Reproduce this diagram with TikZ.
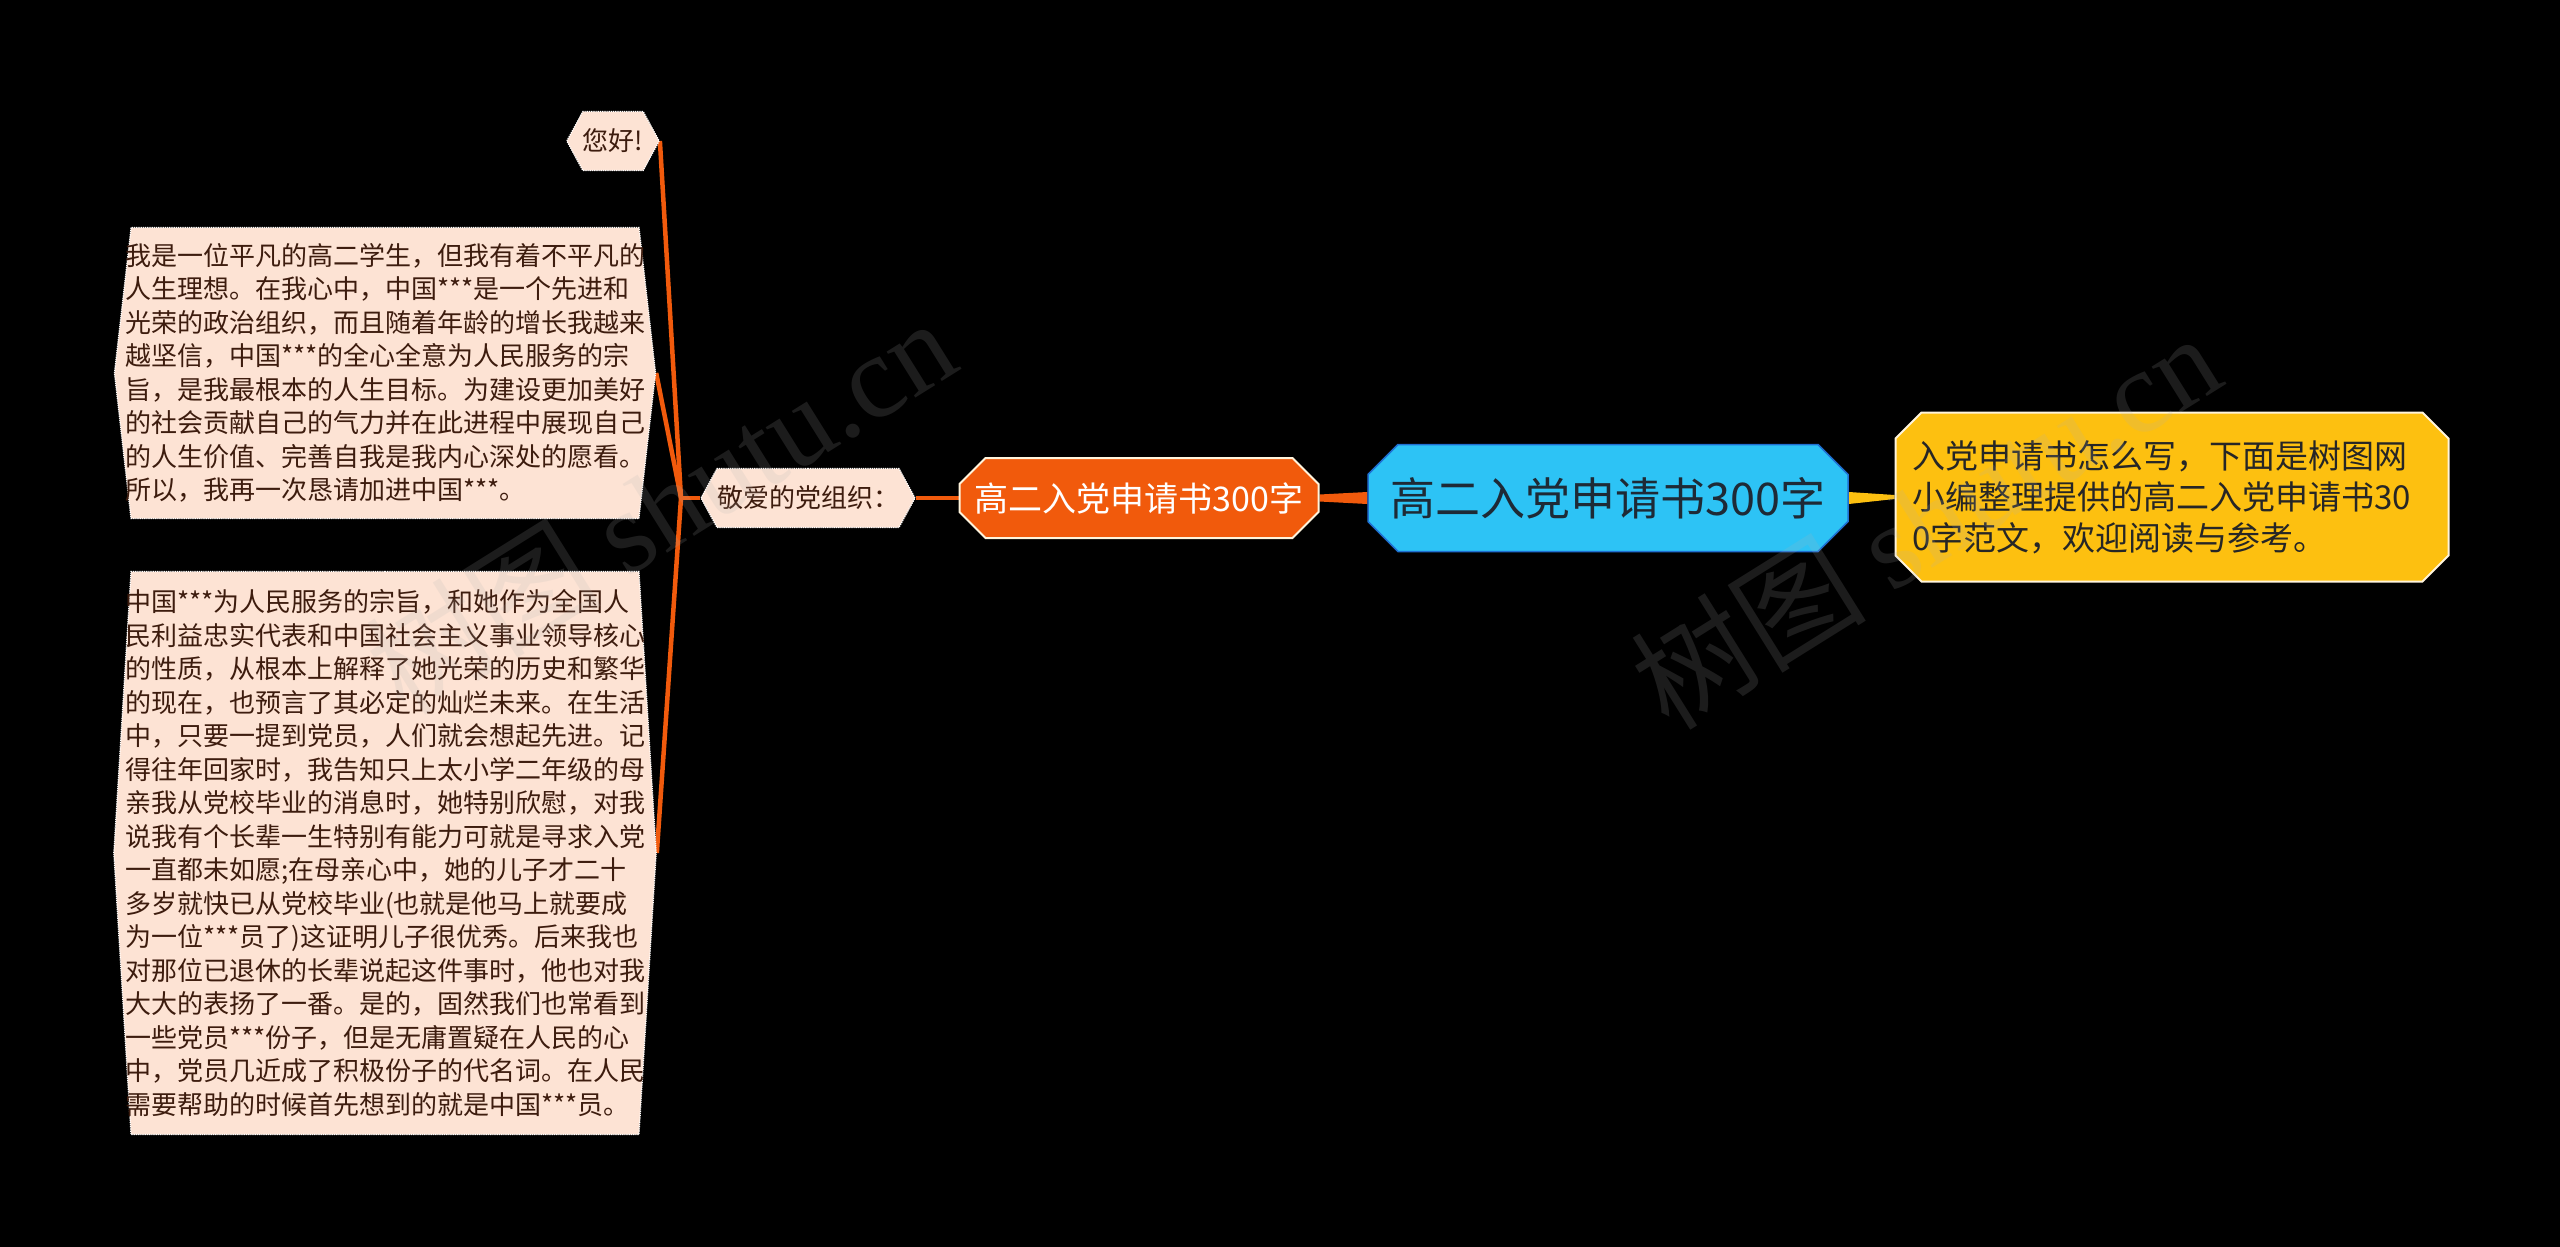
\documentclass[tikz,border=0pt]{standalone}
\usepackage{fontspec}
\setmainfont{Noto Sans CJK SC}
\newfontfamily\wmlatin{Liberation Serif}
\usetikzlibrary{shapes.symbols, shapes.misc, backgrounds}

\definecolor{mapOrange}{HTML}{F15A0C}
\definecolor{mapPeach}{HTML}{FDE3D4}
\definecolor{mapBrown}{HTML}{3D1C0E}
\definecolor{mapBlue}{HTML}{2DC3F5}
\definecolor{mapBlueEdge}{HTML}{1F6FD1}
\definecolor{mapYellow}{HTML}{FDC010}
\definecolor{mapCream}{HTML}{FFF4DC}
\definecolor{mapInk}{HTML}{1E2A36}

\tikzset{
  leaf/.style={signal, signal to=east and west, fill=mapPeach, draw=white,
    densely dotted, line width=1.2pt, text=mapBrown, inner sep=0pt, align=left,
    font=\fontsize{26}{33.5}\selectfont},
  octa/.style={chamfered rectangle, chamfered rectangle xsep=13pt,
    chamfered rectangle ysep=13pt, inner sep=0pt, line width=2pt},
  branch/.style={draw=mapOrange, line width=4.5pt},
  watermark/.style={text=gray!60, opacity=0.16, font=\fontsize{118}{118}\selectfont}
}

\begin{document}
\begin{tikzpicture}[x=1pt, y=-1pt]

% --- CANVAS ---
\useasboundingbox (0,0) rectangle (2560,1247);

% --- 1. ROOT AND RIGHT NOTE ---
\node[octa, chamfered rectangle xsep=15pt, chamfered rectangle ysep=15pt,
  fill=mapBlue, draw=mapBlueEdge, line width=1.5pt, text=mapInk,
  minimum width=480pt, minimum height=107pt,
  font=\fontsize{45}{45}\selectfont] (root) at (1608,498) {高二入党申请书300字};

\node[octa, fill=mapYellow, draw=mapCream, text=black!85, text width=520pt,
  align=left, minimum width=553pt, minimum height=169pt,
  font=\fontsize{33}{41}\selectfont] (note) at (2172,497)
  {入党申请书怎么写，下面是树图网\\小编整理提供的高二入党申请书30\\0字范文，欢迎阅读与参考。};

% --- 2. ORANGE SUBTOPIC ---
\node[octa, fill=mapOrange, draw=mapCream, text=white,
  minimum width=359pt, minimum height=80pt,
  font=\fontsize{34}{34}\selectfont] (sub) at (1139,498) {高二入党申请书300字};

\node[leaf, signal pointer angle=123, minimum width=173pt, minimum height=59pt]
  (greet) at (808,498) {敬爱的党组织：};

% --- 3. LEAVES ---
\node[leaf, signal pointer angle=123, minimum width=49pt, minimum height=59pt]
  (hello) at (613,141) {您好!};

\node[leaf, signal pointer angle=167, inner xsep=-6pt, minimum height=291pt]
  (para1) at (385,373) {我是一位平凡的高二学生，但我有着不平凡的\\
  人生理想。在我心中，中国***是一个先进和\\
  光荣的政治组织，而且随着年龄的增长我越来\\
  越坚信，中国***的全心全意为人民服务的宗\\
  旨，是我最根本的人生目标。为建设更加美好\\
  的社会贡献自己的气力并在此进程中展现自己\\
  的人生价值、完善自我是我内心深处的愿看。\\
  所以，我再一次恳请加进中国***。};

\node[leaf, signal pointer angle=173, inner xsep=-6pt, minimum height=563pt]
  (para2) at (385,853) {中国***为人民服务的宗旨，和她作为全国人\\
  民利益忠实代表和中国社会主义事业领导核心\\
  的性质，从根本上解释了她光荣的历史和繁华\\
  的现在，也预言了其必定的灿烂未来。在生活\\
  中，只要一提到党员，人们就会想起先进。记\\
  得往年回家时，我告知只上太小学二年级的母\\
  亲我从党校毕业的消息时，她特别欣慰，对我\\
  说我有个长辈一生特别有能力可就是寻求入党\\
  一直都未如愿;在母亲心中，她的儿子才二十\\
  多岁就快已从党校毕业(也就是他马上就要成\\
  为一位***员了)这证明儿子很优秀。后来我也\\
  对那位已退休的长辈说起这件事时，他也对我\\
  大大的表扬了一番。是的，固然我们也常看到\\
  一些党员***份子，但是无庸置疑在人民的心\\
  中，党员几近成了积极份子的代名词。在人民\\
  需要帮助的时候首先想到的就是中国***员。};

\coordinate (fork) at (681,498);

% --- 4. CONNECTORS (behind the nodes) ---
\begin{scope}[on background layer]
  \fill[black] (0,0) rectangle (2560,1247);
  % tapered links out of the root
  \fill[mapOrange] ([yshift=6pt]root.west) -- ([yshift=-6pt]root.west)
    -- ([yshift=-3.5pt]sub.east) -- ([yshift=3.5pt]sub.east) -- cycle;
  \fill[mapYellow] ([yshift=6pt]root.east) -- ([yshift=-6pt]root.east)
    -- ([yshift=-2pt]note.west) -- ([yshift=2pt]note.west) -- cycle;
  % plain links
  \draw[branch] (sub.west) -- (greet.east);
  \draw[branch] (greet.west) -- (fork);
  \draw[branch] (fork) -- (hello.east);
  \draw[branch] (fork) -- (para1.east);
  \draw[branch] (fork) -- (para2.east);
\end{scope}

% --- 5. WATERMARK ---
\node[watermark, rotate=32] (wm1) at (660,505) {树图 {\wmlatin shutu.cn}};
\node[watermark, rotate=32] (wm2) at (1925,520) {树图 {\wmlatin shutu.cn}};

\end{tikzpicture}
\end{document}
